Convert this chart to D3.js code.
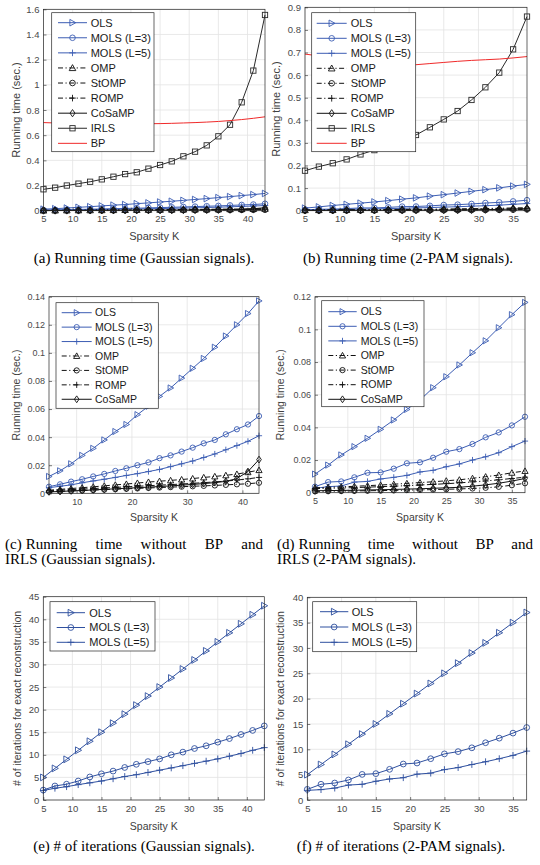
<!DOCTYPE html>
<html>
<head>
<meta charset="utf-8">
<script src="https://cdn.jsdelivr.net/npm/d3@7"></script>
<style>
  body { margin: 0; background: #fff; }
  svg { display: block; }
</style>
</head>
<body>
<svg id="fig" width="540" height="865"></svg>
<script>
// sparsity levels
var kGauss = [5, 7, 9, 11, 13, 15, 17, 19, 21, 23, 25, 27, 29, 31, 33, 35, 37, 39, 41, 43];
var kPam = [5, 7, 9, 11, 13, 15, 17, 19, 21, 23, 25, 27, 29, 31, 33, 35, 37];

// running time (sec.), Gaussian signals
var olsTimeG    = [0.012, 0.016, 0.021, 0.027, 0.032, 0.038, 0.044, 0.049, 0.056, 0.062, 0.069, 0.075, 0.082, 0.089, 0.096, 0.104, 0.112, 0.120, 0.128, 0.137];
var mols3TimeG  = [0.0047, 0.0064, 0.0083, 0.010, 0.012, 0.0138, 0.0159, 0.0178, 0.020, 0.022, 0.025, 0.027, 0.0297, 0.0325, 0.0356, 0.038, 0.042, 0.0456, 0.049, 0.055];
var mols5TimeG  = [0.004, 0.005, 0.006, 0.0075, 0.0088, 0.010, 0.0113, 0.0127, 0.014, 0.0155, 0.017, 0.019, 0.021, 0.023, 0.0255, 0.028, 0.031, 0.034, 0.037, 0.041];
var ompTimeG    = [0.0022, 0.0028, 0.0034, 0.004, 0.0046, 0.0053, 0.006, 0.0066, 0.0073, 0.008, 0.0086, 0.0092, 0.0098, 0.0105, 0.0113, 0.012, 0.0128, 0.0137, 0.015, 0.0165];
var stompTimeG  = [0.0012, 0.0014, 0.0017, 0.002, 0.0023, 0.0026, 0.0029, 0.0032, 0.0035, 0.0038, 0.0041, 0.0044, 0.0047, 0.005, 0.0053, 0.0056, 0.006, 0.0064, 0.0068, 0.0075];
var rompTimeG   = [0.0018, 0.0022, 0.0026, 0.003, 0.0034, 0.0038, 0.0042, 0.0046, 0.005, 0.0054, 0.0058, 0.0062, 0.0066, 0.0071, 0.0076, 0.0081, 0.0087, 0.0094, 0.0103, 0.0113];
var cosampTimeG = [0.001, 0.0013, 0.0017, 0.002, 0.0024, 0.0028, 0.0032, 0.0036, 0.004, 0.0044, 0.0048, 0.0053, 0.0058, 0.0063, 0.0069, 0.0076, 0.0085, 0.0105, 0.0155, 0.024];
var irlsTimeG   = [0.17, 0.183, 0.2, 0.215, 0.23, 0.249, 0.27, 0.291, 0.305, 0.334, 0.363, 0.392, 0.432, 0.469, 0.519, 0.591, 0.683, 0.861, 1.113, 1.555];
var bpTimeG     = [0.700, 0.697, 0.695, 0.693, 0.692, 0.691, 0.690, 0.690, 0.690, 0.691, 0.692, 0.694, 0.697, 0.700, 0.704, 0.709, 0.716, 0.724, 0.734, 0.746];

// running time (sec.), 2-PAM signals
var olsTimeP    = [0.0114, 0.0169, 0.0231, 0.0282, 0.0333, 0.0388, 0.0445, 0.051, 0.0567, 0.0643, 0.071, 0.0782, 0.0857, 0.093, 0.101, 0.109, 0.1165];
var mols3TimeP  = [0.0037, 0.0065, 0.0069, 0.0094, 0.0122, 0.0124, 0.0147, 0.018, 0.0186, 0.0214, 0.0251, 0.0267, 0.0298, 0.0339, 0.0369, 0.0412, 0.0465];
var mols5TimeP  = [0.0027, 0.0037, 0.0041, 0.0065, 0.0069, 0.0084, 0.0094, 0.0106, 0.0127, 0.0137, 0.0159, 0.0176, 0.020, 0.022, 0.0245, 0.0282, 0.0316];
var ompTimeP    = [0.0030, 0.0033, 0.0036, 0.0039, 0.0043, 0.0047, 0.0052, 0.0057, 0.0062, 0.0067, 0.0073, 0.0079, 0.0088, 0.0098, 0.0108, 0.0122, 0.0133];
var stompTimeP  = [0.0008, 0.0009, 0.001, 0.0011, 0.0012, 0.0013, 0.0014, 0.0016, 0.0017, 0.0019, 0.0021, 0.0023, 0.0026, 0.003, 0.0036, 0.0046, 0.0058];
var rompTimeP   = [0.0025, 0.0027, 0.0029, 0.0031, 0.0034, 0.0037, 0.004, 0.0043, 0.0047, 0.0051, 0.0055, 0.006, 0.0066, 0.0072, 0.0079, 0.0087, 0.0095];
var cosampTimeP = [0.0012, 0.0013, 0.0014, 0.0015, 0.0017, 0.0018, 0.002, 0.0022, 0.0024, 0.0027, 0.003, 0.0033, 0.004, 0.0048, 0.0058, 0.0071, 0.0087];
var irlsTimeP   = [0.177, 0.195, 0.21, 0.227, 0.249, 0.268, 0.288, 0.313, 0.335, 0.369, 0.404, 0.441, 0.49, 0.546, 0.611, 0.714, 0.859];
var bpTimeP     = [0.693, 0.685, 0.677, 0.669, 0.662, 0.655, 0.650, 0.647, 0.646, 0.651, 0.656, 0.661, 0.665, 0.668, 0.671, 0.676, 0.682];

// number of iterations for exact reconstruction
var olsIterG   = [5, 7, 9, 11, 13, 15, 17, 19, 21, 23, 25, 27, 29, 31, 33, 35, 37, 39, 41, 43];
var mols3IterG = [2.2, 3.1, 3.5, 4.2, 5.1, 5.8, 6.4, 7.2, 7.9, 8.5, 9.1, 10.0, 10.6, 11.4, 12.0, 12.8, 13.6, 14.5, 15.4, 16.4];
var mols5IterG = [2.1, 2.6, 2.95, 3.4, 3.8, 4.2, 4.7, 5.2, 5.6, 6.1, 6.6, 7.1, 7.6, 8.1, 8.6, 9.1, 9.7, 10.3, 11.0, 11.6];
var olsIterP   = [5, 7, 9, 11, 13, 15, 17, 19, 21, 23, 25, 27, 29, 31, 33, 35, 37];
var mols3IterP = [2.1, 3.1, 3.35, 3.95, 5.05, 5.2, 6.05, 7.1, 7.3, 8.15, 9.1, 9.55, 10.3, 11.3, 12.2, 13.2, 14.3];
var mols5IterP = [1.9, 2.05, 2.35, 2.95, 3.1, 3.7, 4.15, 4.4, 5.1, 5.3, 6.0, 6.4, 7.0, 7.55, 8.15, 8.8, 9.65];

// tick values
var xTicksG = [5, 10, 15, 20, 25, 30, 35, 40];
var xTicksGc = [10, 20, 30, 40];
var xTicksP = [5, 10, 15, 20, 25, 30, 35];
var yTicksA = [0, 0.2, 0.4, 0.6, 0.8, 1, 1.2, 1.4, 1.6];
var yTicksB = [0, 0.1, 0.2, 0.3, 0.4, 0.5, 0.6, 0.7, 0.8, 0.9];
var yTicksC = [0, 0.02, 0.04, 0.06, 0.08, 0.1, 0.12, 0.14];
var yTicksD = [0, 0.02, 0.04, 0.06, 0.08, 0.1, 0.12];
var yTicksE = [0, 5, 10, 15, 20, 25, 30, 35, 40, 45];
var yTicksF = [0, 5, 10, 15, 20, 25, 30, 35, 40];

var methodNames = ["OLS", "MOLS (L=3)", "MOLS (L=5)", "OMP", "StOMP", "ROMP", "CoSaMP", "IRLS", "BP"];

// line styles per method
var blue = "#3c5db3";
var dashDot = "5,2.5,1.2,2.5";
var styles = {
  "OLS":        { color: blue, dash: null, marker: "tri-right" },
  "MOLS (L=3)": { color: blue, dash: null, marker: "circle" },
  "MOLS (L=5)": { color: blue, dash: null, marker: "plus" },
  "OMP":        { color: "#111", dash: dashDot, marker: "tri-up" },
  "StOMP":      { color: "#111", dash: dashDot, marker: "circle" },
  "ROMP":       { color: "#111", dash: dashDot, marker: "plus" },
  "CoSaMP":     { color: "#111", dash: null, marker: "diamond" },
  "IRLS":       { color: "#2a2a2a", dash: null, marker: "square" },
  "BP":         { color: "#f02a2a", dash: null, marker: null }
};

var svg = d3.select("#fig");
var tickFont = "Liberation Sans, Arial, sans-serif";
var serif = "Liberation Serif, Times New Roman, serif";

function drawMarker(g, type, cx, cy, color, s) {
  if (type === "tri-right") {
    g.append("path").attr("d", "M" + (cx - s * 0.8) + "," + (cy - s) + "L" + (cx + s) + "," + cy + "L" + (cx - s * 0.8) + "," + (cy + s) + "Z")
      .attr("fill", "none").attr("stroke", color).attr("stroke-width", 0.9);
  } else if (type === "tri-up") {
    g.append("path").attr("d", "M" + cx + "," + (cy - s) + "L" + (cx + s) + "," + (cy + s * 0.8) + "L" + (cx - s) + "," + (cy + s * 0.8) + "Z")
      .attr("fill", "none").attr("stroke", color).attr("stroke-width", 0.9);
  } else if (type === "circle") {
    g.append("circle").attr("cx", cx).attr("cy", cy).attr("r", s * 0.85)
      .attr("fill", "none").attr("stroke", color).attr("stroke-width", 0.9);
  } else if (type === "plus") {
    g.append("path").attr("d", "M" + (cx - s) + "," + cy + "H" + (cx + s) + "M" + cx + "," + (cy - s) + "V" + (cy + s))
      .attr("stroke", color).attr("stroke-width", 0.9);
  } else if (type === "diamond") {
    g.append("path").attr("d", "M" + cx + "," + (cy - s * 1.1) + "L" + (cx + s * 0.75) + "," + cy + "L" + cx + "," + (cy + s * 1.1) + "L" + (cx - s * 0.75) + "," + cy + "Z")
      .attr("fill", "none").attr("stroke", color).attr("stroke-width", 0.9);
  } else if (type === "square") {
    g.append("rect").attr("x", cx - s * 0.8).attr("y", cy - s * 0.8).attr("width", s * 1.6).attr("height", s * 1.6)
      .attr("fill", "none").attr("stroke", color).attr("stroke-width", 0.9);
  }
}

// one justified caption line: the "(x)" label keeps a normal space,
// the remaining words are spread evenly over what is left of the width
function justifiedLine(g, str, x0, width, y) {
  var words = str.split(" ");
  var label = g.append("text").attr("x", x0).attr("y", y).text(words[0]);
  var start = x0 + label.node().getComputedTextLength() + 4;
  var rest = words.slice(1);
  var texts = rest.map(function(w){ return g.append("text").attr("y", y).text(w); });
  var widths = texts.map(function(t){ return t.node().getComputedTextLength(); });
  var gap = (x0 + width - start - d3.sum(widths)) / (rest.length - 1);
  var cx = start;
  texts.forEach(function(t, i){ t.attr("x", cx); cx += widths[i] + gap; });
}

function drawPanel(p) {
  var g = svg.append("g");
  var x = d3.scaleLinear().domain(p.xDomain).range([p.left, p.right]);
  var y = d3.scaleLinear().domain(p.yDomain).range([p.bottom, p.top]);

  // grid
  g.selectAll(".gx").data(p.xTicks).enter().append("line")
    .attr("x1", function(d){ return x(d); }).attr("x2", function(d){ return x(d); })
    .attr("y1", p.top).attr("y2", p.bottom)
    .attr("stroke", "#e3e3e3").attr("stroke-width", 0.8);
  g.selectAll(".gy").data(p.yTicks).enter().append("line")
    .attr("x1", p.left).attr("x2", p.right)
    .attr("y1", function(d){ return y(d); }).attr("y2", function(d){ return y(d); })
    .attr("stroke", "#e3e3e3").attr("stroke-width", 0.8);

  // series
  var line = d3.line().x(function(d){ return x(d[0]); }).y(function(d){ return y(d[1]); });
  p.series.forEach(function(s) {
    var st = styles[s.name];
    var color = st.color === blue ? p.blue : st.color;
    var pts = p.k.map(function(k, i){ return [k, s.values[i]]; });
    g.append("path").attr("d", line(pts))
      .attr("fill", "none").attr("stroke", color).attr("stroke-width", 1)
      .attr("stroke-dasharray", st.dash);
    if (st.marker) {
      var mg = g.append("g");
      pts.forEach(function(pt) { drawMarker(mg, st.marker, x(pt[0]), y(pt[1]), color, p.markerSize); });
    }
  });

  // axes
  var ax = g.append("g").attr("transform", "translate(0," + p.bottom + ")")
    .call(d3.axisBottom(x).tickValues(p.xTicks).tickSizeInner(-3).tickSizeOuter(0).tickPadding(5));
  var ay = g.append("g").attr("transform", "translate(" + p.left + ",0)")
    .call(d3.axisLeft(y).tickValues(p.yTicks).tickSizeInner(-3).tickSizeOuter(0).tickPadding(4)
      .tickFormat(function(d){ return String(d); }));
  [ax, ay].forEach(function(a) {
    a.select(".domain").remove();
    a.selectAll(".tick line").attr("stroke", "#262626").attr("stroke-width", 0.6);
    a.selectAll(".tick text").attr("fill", "#4a4a4a").style("font-family", tickFont).style("font-size", p.tickSize + "px");
  });
  g.append("rect").attr("x", p.left).attr("y", p.top)
    .attr("width", p.right - p.left).attr("height", p.bottom - p.top)
    .attr("fill", "none").attr("stroke", "#262626").attr("stroke-width", 0.7);

  // axis labels
  g.append("text").attr("x", (p.left + p.right) / 2).attr("y", p.xLabelY)
    .attr("text-anchor", "middle").attr("fill", "#404040")
    .style("font-family", tickFont).style("font-size", p.labelSize + "px").text("Sparsity K");
  g.append("text").attr("transform", "translate(" + p.yLabelX + "," + ((p.top + p.bottom) / 2) + ") rotate(-90)")
    .attr("text-anchor", "middle").attr("fill", "#404040")
    .style("font-family", tickFont).style("font-size", p.labelSize + "px").text(p.yLabel);

  // legend
  var L = p.legend;
  var lg = g.append("g");
  lg.append("rect").attr("x", L.x0).attr("y", L.y0).attr("width", L.x1 - L.x0).attr("height", L.y1 - L.y0)
    .attr("fill", "#fff").attr("stroke", "#262626").attr("stroke-width", 0.7);
  p.series.forEach(function(s, i) {
    var st = styles[s.name];
    var color = st.color === blue ? p.blue : st.color;
    var ly = L.first + i * L.step;
    lg.append("line").attr("x1", L.lx0).attr("x2", L.lx1).attr("y1", ly).attr("y2", ly)
      .attr("stroke", color).attr("stroke-width", 1).attr("stroke-dasharray", st.dash);
    if (st.marker) drawMarker(lg, st.marker, (L.lx0 + L.lx1) / 2, ly, color, p.markerSize);
    lg.append("text").attr("x", L.tx).attr("y", ly).attr("dy", "0.36em")
      .attr("fill", "#1a1a1a").style("font-family", tickFont).style("font-size", L.size + "px").text(s.name);
  });

  // caption
  var cap = g.append("g").style("font-family", serif).style("font-size", "15px").attr("fill", "#000");
  if (p.caption.length === 1) {
    cap.append("text").attr("x", p.captionX).attr("y", p.captionY).attr("text-anchor", "middle").text(p.caption[0]);
  } else {
    justifiedLine(cap, p.caption[0], p.captionX, p.captionW, p.captionY);
    cap.append("text").attr("x", p.captionX).attr("y", p.captionY + 15).text(p.caption[1]);
  }
}

function seriesOf(names, arrays) {
  return names.map(function(n, i){ return { name: n, values: arrays[i] }; });
}

var allG = [olsTimeG, mols3TimeG, mols5TimeG, ompTimeG, stompTimeG, rompTimeG, cosampTimeG, irlsTimeG, bpTimeG];
var allP = [olsTimeP, mols3TimeP, mols5TimeP, ompTimeP, stompTimeP, rompTimeP, cosampTimeP, irlsTimeP, bpTimeP];

var panels = [
  { left: 43.5, right: 265, top: 9.3, bottom: 210.7, k: kGauss, xDomain: [5, 43], yDomain: [0, 1.6],
    xTicks: xTicksG, yTicks: yTicksA, series: seriesOf(methodNames, allG), blue: "#3c5db3",
    yLabel: "Running time (sec.)", yLabelX: 20, xLabelY: 240, tickSize: 9.5, labelSize: 11, markerSize: 3.3,
    legend: { x0: 51.7, x1: 154, y0: 12.7, y1: 151.7, first: 22.7, step: 15.08, lx0: 58, lx1: 87, tx: 90.7, size: 11 },
    caption: ["(a) Running time (Gaussian signals)."], captionX: 144, captionY: 263 },
  { left: 305, right: 527, top: 7.3, bottom: 210.7, k: kPam, xDomain: [5, 37], yDomain: [0, 0.9],
    xTicks: xTicksP, yTicks: yTicksB, series: seriesOf(methodNames, allP), blue: "#3c5db3",
    yLabel: "Running time (sec.)", yLabelX: 280, xLabelY: 240, tickSize: 9.5, labelSize: 11, markerSize: 3.3,
    legend: { x0: 311.7, x1: 415.7, y0: 12.7, y1: 151.7, first: 23.3, step: 15, lx0: 316.7, lx1: 346.7, tx: 350.7, size: 11 },
    caption: ["(b) Running time (2-PAM signals)."], captionX: 408, captionY: 263 },
  { left: 49, right: 259, top: 296.7, bottom: 493.3, k: kGauss, xDomain: [5, 43], yDomain: [0, 0.14],
    xTicks: xTicksGc, yTicks: yTicksC, series: seriesOf(methodNames.slice(0, 7), allG.slice(0, 7)), blue: "#3c5db3",
    yLabel: "Running time (sec.)", yLabelX: 20, xLabelY: 521, tickSize: 9, labelSize: 10.5, markerSize: 3.1,
    legend: { x0: 56, x1: 158.3, y0: 302.7, y1: 408.3, first: 312.7, step: 14.43, lx0: 61.7, lx1: 91.7, tx: 95, size: 10.5 },
    caption: ["(c) Running time without BP and", "IRLS (Gaussian signals)."], captionX: 5, captionY: 549, captionW: 258 },
  { left: 315, right: 525, top: 296.7, bottom: 492.7, k: kPam, xDomain: [5, 37], yDomain: [0, 0.12],
    xTicks: xTicksP, yTicks: yTicksD, series: seriesOf(methodNames.slice(0, 7), allP.slice(0, 7)), blue: "#3c5db3",
    yLabel: "Running time (sec.)", yLabelX: 284, xLabelY: 521, tickSize: 9, labelSize: 10.5, markerSize: 3.1,
    legend: { x0: 321.7, x1: 424, y0: 300.7, y1: 406.7, first: 311.7, step: 14.6, lx0: 328.3, lx1: 356.7, tx: 360.7, size: 10.5 },
    caption: ["(d) Running time without BP and", "IRLS (2-PAM signals)."], captionX: 277, captionY: 549, captionW: 256 },
  { left: 43.3, right: 264.3, top: 596.7, bottom: 800, k: kGauss, xDomain: [5, 43], yDomain: [0, 45],
    xTicks: xTicksG, yTicks: yTicksE, series: seriesOf(methodNames.slice(0, 3), [olsIterG, mols3IterG, mols5IterG]), blue: "#2f509f",
    yLabel: "# of iterations for exact reconstruction", yLabelX: 21, xLabelY: 830, tickSize: 9.5, labelSize: 10.5, markerSize: 3.4,
    legend: { x0: 50, x1: 155, y0: 601.7, y1: 651, first: 612.7, step: 14.8, lx0: 56.7, lx1: 85, tx: 89.3, size: 11 },
    caption: ["(e) # of iterations (Gaussian signals)."], captionX: 144, captionY: 851 },
  { left: 307.3, right: 526.7, top: 597.3, bottom: 800, k: kPam, xDomain: [5, 37], yDomain: [0, 40],
    xTicks: xTicksP, yTicks: yTicksF, series: seriesOf(methodNames.slice(0, 3), [olsIterP, mols3IterP, mols5IterP]), blue: "#2f509f",
    yLabel: "# of iterations for exact reconstruction", yLabelX: 284, xLabelY: 830, tickSize: 9.5, labelSize: 10.5, markerSize: 3.4,
    legend: { x0: 312.7, x1: 416.7, y0: 601.7, y1: 651.7, first: 611.7, step: 15.3, lx0: 320, lx1: 348.3, tx: 351.7, size: 11 },
    caption: ["(f) # of iterations (2-PAM signals)."], captionX: 401, captionY: 851 }
];

panels.forEach(drawPanel);
</script>
</body>
</html>
